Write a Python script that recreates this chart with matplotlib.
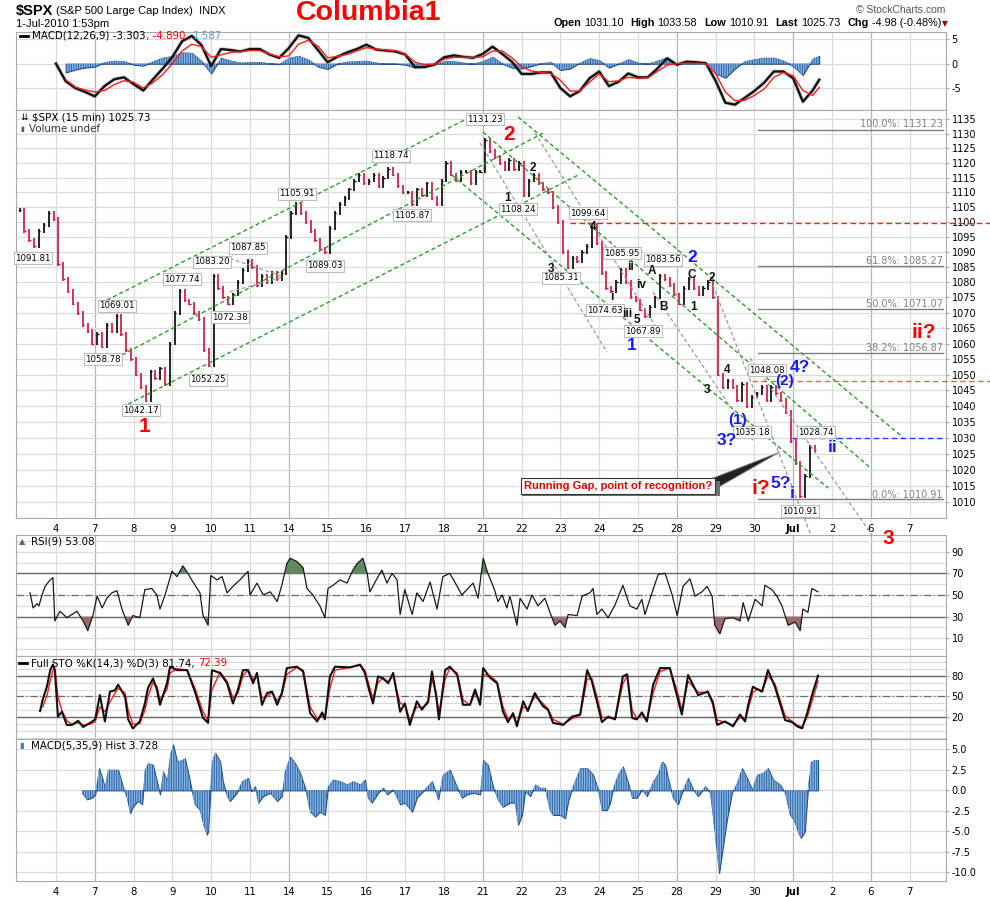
import matplotlib

matplotlib.use("Agg")
import matplotlib.pyplot as plt
import numpy as np
from matplotlib.patches import Polygon, Rectangle
from matplotlib.ticker import FixedLocator, NullLocator, FuncFormatter

# ---------------------------------------------------------------- data
# trading-day index: Jun 3 = -1, Jun 4 = 0 ... Jul 1 = 19, Jul 7 = 22
DATE_LABELS = ["4", "7", "8", "9", "10", "11", "14", "15", "16", "17", "18", "21",
               "22", "23", "24", "25", "28", "29", "30", "Jul", "2", "6", "7"]
DARK_DAYS = [1, 6, 11, 16, 19, 21]

# 15-min closes, read roughly 8 per session
PRICE_DAY = [-1, 0, 1, 2, 3, 4, 5, 6, 7, 8, 9, 10, 11, 12, 13, 14, 15, 16, 17, 18, 19]
PRICE_CLOSES = [
    [1104, 1097, 1094, 1092, 1097, 1099, 1103, 1101],
    [1086, 1081, 1077, 1073, 1070, 1066, 1064, 1060],
    [1063, 1059, 1066, 1064, 1069, 1063, 1058, 1055],
    [1050, 1046, 1042, 1051, 1049, 1052, 1047, 1060],
    [1070, 1077, 1074, 1073, 1070, 1068, 1058, 1053],
    [1082, 1078, 1075, 1073, 1076, 1080, 1084, 1087],
    [1085, 1079, 1082, 1080, 1083, 1081, 1083, 1095],
    [1103, 1106, 1103, 1100, 1097, 1094, 1091, 1090],
    [1098, 1103, 1106, 1108, 1111, 1114, 1116, 1113],
    [1114, 1116, 1112, 1115, 1118, 1116, 1112, 1110],
    [1110, 1106, 1111, 1109, 1113, 1108, 1106, 1114],
    [1120, 1116, 1114, 1117, 1117, 1113, 1117, 1117],
    [1128, 1124, 1122, 1120, 1118, 1121, 1118, 1120],
    [1109, 1114, 1116, 1113, 1111, 1110, 1105, 1100],
    [1090, 1085, 1088, 1087, 1090, 1092, 1099, 1093],
    [1083, 1078, 1077, 1080, 1084, 1080, 1075, 1074],
    [1071, 1069, 1072, 1075, 1082, 1081, 1079, 1076],
    [1073, 1078, 1081, 1078, 1076, 1078, 1080, 1075],
    [1050, 1046, 1048, 1046, 1042, 1047, 1040, 1043],
    [1044, 1046, 1042, 1046, 1044, 1042, 1038, 1029],
    [1022, 1012, 1018, 1027, 1026],
]

# MACD(12,26,9)
MACD_T = [0, .25, .5, .75, 1, 1.25, 1.5, 1.75, 2, 2.25, 2.5, 2.75, 3, 3.25, 3.5, 3.75, 4, 4.25,
          4.5, 4.75, 5, 5.25, 5.5, 5.75, 6, 6.25, 6.5, 6.75, 7, 7.25, 7.5, 7.75, 8, 8.25, 8.5,
          8.75, 9, 9.25, 9.5, 9.75, 10, 10.25, 10.5, 10.75, 11, 11.25, 11.5, 11.75, 12, 12.25,
          12.5, 12.75, 13, 13.25, 13.5, 13.75, 14, 14.25, 14.5, 14.75, 15, 15.25, 15.5, 15.75,
          16, 16.25, 16.5, 16.75, 17, 17.25, 17.5, 17.75, 18, 18.25, 18.5, 18.75, 19, 19.25,
          19.5, 19.67]
MACD_LINE = [0, -3.6, -5.0, -5.8, -6.7, -4.6, -3.2, -2.8, -4.2, -5.5, -3.2, -1.0, 1.4, 4.6, 5.7,
             3.8, -0.5, 3.0, 2.8, 2.5, 3.0, 3.0, 1.9, 1.2, 3.2, 5.8, 5.3, 2.8, 0.3, 1.4, 2.3, 3.0,
             3.9, 2.9, 2.7, 2.5, 1.9, -0.7, -0.7, -0.2, 1.3, 1.7, 1.4, 1.2, 2.0, 3.5, 2.0, 0.4,
             -2.1, -2.1, -1.8, -1.8, -5.0, -6.7, -5.6, -3.0, -1.6, -4.6, -3.7, -2.0, -2.8, -2.8,
             -1.0, 1.1, -0.2, 0.4, 0.3, 0.1, -3.5, -8.0, -8.4, -7.0, -5.6, -3.9, -1.6, -1.6, -3.0,
             -7.8, -5.5, -3.3]
MACD_SIGNAL = [None, -3.3, -4.8, -5.4, -5.8, -5.5, -4.3, -3.5, -3.8, -5.0, -3.9, -2.2, 0.0, 2.6,
               4.0, 3.5, 1.3, 1.8, 2.3, 2.5, 2.7, 2.7, 2.0, 1.4, 1.6, 4.0, 4.8, 3.6, 1.2, 1.5, 1.9,
               2.6, 3.3, 3.0, 2.8, 2.7, 2.0, 0.3, -0.2, -0.1, 0.9, 1.3, 1.3, 1.3, 1.4, 2.6, 2.6,
               1.2, -0.6, -1.5, -1.8, -2.0, -3.4, -5.6, -5.6, -3.8, -2.1, -3.7, -3.5, -2.8, -3.0,
               -2.9, -1.6, -0.3, 0.0, 0.1, 0.1, 0.0, -2.0, -5.8, -7.6, -7.5, -6.5, -5.2, -2.8,
               -1.8, -2.5, -5.5, -6.5, -4.9]
MACD_HIST = [None, -1.8, -1.2, -0.8, -0.6, 0.3, 0.6, 0.5, -0.2, -0.4, 0.5, 1.2, 1.6, 2.3, 2.2,
             0.5, -2.0, 1.2, 0.6, 0.2, 0.3, 0.3, 0.1, -0.1, 1.2, 1.6, 0.8, -0.6, -1.1, 0.0, 0.4,
             0.5, 0.6, 0.2, 0.0, 0.0, -0.2, -0.8, -0.5, -0.1, 0.5, 0.5, 0.2, 0.0, 0.5, 1.4, 0.0,
             -0.8, -1.0, -0.5, 0.1, 0.3, -1.3, -1.0, 0.2, 1.1, 0.7, -0.8, 0.0, 0.9, 0.2, 0.0, 0.6,
             1.3, -0.2, 0.3, 0.2, 0.1, -2.0, -2.9, -1.0, 0.5, 0.9, 1.2, 1.2, 0.6, -0.5, -2.3,
             1.0, 1.6]

# RSI(9)
RSI_T = [-.67, -.59, -.49, -.44, -.36, -.28, -.15, -.08, -.03, .10, .28, .54, .70, .82, .95,
         1.06, 1.19, 1.31, 1.44, 1.57, 1.70, 1.86, 1.98, 2.16, 2.29, 2.47, 2.60, 2.68, 2.81,
         2.99, 3.12, 3.27, 3.40, 3.53, 3.71, 3.79, 3.92, 3.99, 4.15, 4.28, 4.41, 4.56, 4.74,
         4.95, 5.00, 5.18, 5.34, 5.52, 5.70, 5.82, 5.95, 6.03, 6.21, 6.37, 6.47, 6.62, 6.80,
         6.93, 7.01, 7.14, 7.32, 7.50, 7.65, 7.76, 7.91, 8.02, 8.09, 8.27, 8.40, 8.53, 8.66,
         8.79, 8.87, 8.99, 9.18, 9.30, 9.46, 9.64, 9.82, 9.97, 10.15, 10.34, 10.46, 10.59,
         10.75, 10.88, 11.01, 11.13, 11.20, 11.30, 11.39, 11.50, 11.62, 11.70, 11.88, 11.96,
         12.14, 12.27, 12.42, 12.60, 12.73, 12.86, 12.99, 13.12, 13.20, 13.43, 13.56, 13.76,
         13.84, 13.94, 14.07, 14.23, 14.41, 14.61, 14.79, 14.97, 15.10, 15.18, 15.36, 15.52,
         15.70, 15.88, 16.01, 16.16, 16.34, 16.47, 16.65, 16.78, 16.91, 16.98, 17.11, 17.24,
         17.45, 17.63, 17.71, 17.84, 18.02, 18.20, 18.27, 18.45, 18.58, 18.71, 18.87, 19.05,
         19.18, 19.25, 19.38, 19.48, 19.64]
RSI_V = [52, 38, 42, 40, 50, 58, 64, 66, 26, 35, 29, 35, 26, 17, 31, 49, 38, 47, 52, 54, 37, 22,
         31, 29, 55, 56, 50, 37, 50, 72, 67, 77, 70, 62, 52, 31, 22, 68, 64, 67, 52, 58, 64, 72,
         50, 61, 50, 53, 44, 59, 79, 84, 81, 75, 56, 50, 40, 29, 56, 59, 64, 61, 73, 79, 84, 70,
         53, 65, 73, 61, 70, 64, 32, 55, 32, 52, 44, 62, 37, 67, 70, 58, 50, 55, 61, 47, 84, 70,
         64, 55, 44, 50, 38, 49, 22, 47, 37, 50, 40, 47, 34, 22, 26, 20, 32, 31, 49, 52, 56, 32,
         37, 29, 41, 59, 40, 37, 46, 32, 52, 69, 70, 50, 31, 58, 65, 49, 53, 58, 49, 22, 14, 28,
         29, 26, 43, 26, 46, 40, 59, 55, 49, 40, 22, 25, 17, 37, 34, 56, 53]

# Full STO %K(14,3) / %D(3)
STO_T = [-.41, -.34, -.23, -.15, -.08, -.03, .05, .15, .28, .41, .57, .70, .88, 1.01, 1.13, 1.26,
         1.39, 1.52, 1.60, 1.78, 1.86, 1.98, 2.16, 2.29, 2.37, 2.50, 2.60, 2.68, 2.86, 2.94,
         3.12, 3.38, 3.58, 3.79, 3.92, 4.02, 4.23, 4.41, 4.56, 4.69, 4.82, 4.95, 5.08, 5.18,
         5.31, 5.44, 5.57, 5.70, 5.82, 5.95, 6.21, 6.37, 6.55, 6.73, 6.86, 6.93, 7.06, 7.19,
         7.58, 7.84, 7.96, 8.09, 8.17, 8.30, 8.43, 8.56, 8.69, 8.87, 8.99, 9.12, 9.30, 9.43,
         9.59, 9.69, 9.80, 9.87, 10.03, 10.15, 10.34, 10.49, 10.67, 10.80, 10.93, 11.01, 11.19,
         11.37, 11.52, 11.65, 11.78, 11.88, 12.04, 12.16, 12.34, 12.55, 12.68, 12.81, 13.07,
         13.30, 13.51, 13.69, 13.81, 13.94, 14.07, 14.23, 14.41, 14.61, 14.72, 14.85, 14.97,
         15.10, 15.23, 15.39, 15.57, 15.82, 16.01, 16.13, 16.29, 16.55, 16.80, 16.93, 17.04,
         17.24, 17.45, 17.63, 17.76, 17.84, 17.96, 18.09, 18.20, 18.35, 18.53, 18.66, 18.79,
         18.97, 19.10, 19.23, 19.36, 19.51, 19.64]
STO_K = [29, 46, 65, 88, 96, 88, 21, 28, 9, 9, 15, 6, 12, 17, 52, 14, 57, 59, 67, 50, 17, 4, 14,
         40, 62, 76, 60, 38, 69, 93, 88, 88, 57, 19, 12, 88, 84, 69, 40, 60, 88, 88, 69, 84, 38,
         55, 57, 38, 55, 91, 93, 86, 26, 14, 27, 17, 79, 93, 92, 96, 84, 55, 40, 79, 76, 69, 84,
         28, 40, 9, 43, 31, 43, 86, 50, 17, 88, 93, 81, 38, 38, 60, 38, 91, 77, 69, 28, 13, 26,
         7, 43, 29, 55, 36, 31, 12, 9, 21, 24, 88, 72, 43, 13, 21, 17, 79, 82, 19, 17, 27, 14,
         67, 91, 91, 50, 24, 81, 52, 57, 40, 9, 14, 7, 24, 14, 38, 64, 60, 57, 88, 64, 40, 16,
         13, 7, 4, 26, 57, 80]
STO_D = [None, 35, 52, 72, 88, 90, 50, 30, 15, 10, 12, 9, 10, 14, 35, 28, 42, 55, 62, 55, 30,
         10, 11, 30, 50, 70, 65, 45, 60, 84, 90, 88, 62, 28, 15, 60, 85, 72, 48, 55, 80, 88, 74,
         80, 48, 50, 56, 44, 52, 82, 92, 88, 35, 18, 22, 20, 62, 88, 92, 95, 88, 62, 48, 70, 77,
         71, 80, 40, 38, 16, 35, 34, 40, 75, 55, 25, 75, 91, 84, 45, 38, 55, 42, 82, 80, 71, 35,
         18, 23, 11, 35, 32, 50, 40, 32, 17, 10, 18, 23, 75, 76, 50, 20, 19, 18, 68, 80, 30, 18,
         24, 17, 55, 86, 91, 58, 30, 72, 56, 56, 44, 16, 13, 9, 20, 16, 32, 56, 61, 58, 80, 68,
         45, 22, 14, 9, 6, 20, 48, 72]

# MACD(5,35,9) histogram
HIST_T = [.67, .80, .93, 1.01, 1.06, 1.11, 1.19, 1.26, 1.34, 1.47, 1.60, 1.73, 1.83, 1.91, 1.98,
          2.11, 2.22, 2.29, 2.37, 2.50, 2.63, 2.68, 2.76, 2.86, 2.94, 3.02, 3.12, 3.25, 3.32,
          3.40, 3.51, 3.58, 3.71, 3.79, 3.89, 3.92, 4.02, 4.10, 4.23, 4.30, 4.41, 4.48, 4.66,
          4.79, 4.95, 5.03, 5.13, 5.21, 5.34, 5.52, 5.70, 5.82, 5.90, 6.03, 6.16, 6.29, 6.42,
          6.55, 6.68, 6.80, 6.93, 7.01, 7.14, 7.32, 7.50, 7.65, 7.84, 7.96, 8.04, 8.14, 8.30,
          8.43, 8.53, 8.69, 8.87, 8.99, 9.18, 9.30, 9.46, 9.69, 9.85, 9.97, 10.15, 10.34, 10.46,
          10.59, 10.75, 10.93, 11.01, 11.13, 11.26, 11.39, 11.52, 11.70, 11.83, 11.91, 12.01,
          12.09, 12.22, 12.35, 12.47, 12.60, 12.73, 12.81, 12.99, 13.12, 13.20, 13.32, 13.51,
          13.69, 13.84, 13.97, 14.07, 14.20, 14.28, 14.36, 14.48, 14.61, 14.72, 14.85, 14.97,
          15.10, 15.23, 15.39, 15.52, 15.62, 15.70, 15.77, 15.90, 16.03, 16.16, 16.29, 16.42,
          16.55, 16.73, 16.86, 16.98, 17.09, 17.19, 17.29, 17.42, 17.55, 17.68, 17.81, 17.94,
          18.07, 18.22, 18.35, 18.48, 18.66, 18.79, 18.92, 19.02, 19.12, 19.20, 19.30, 19.38,
          19.46, 19.56, 19.64]
HIST_V = [-0.3, -1.1, -0.9, -0.5, 1.1, 2.7, 1.5, 0.3, 2.5, 2.5, 2.5, 0.3, -0.9, -2.8, -2.0, -1.3,
          -1.7, 2.5, 3.3, 3.1, 0.5, -0.5, 2.3, 1.1, 4.3, 5.6, 3.5, 3.7, 3.9, 2.3, -0.3, -1.7,
          -2.4, -4.0, -5.4, -5.0, 3.5, 4.6, 3.5, 1.1, -0.7, -1.3, -0.3, 1.1, 1.5, -0.1, 0.5,
          -1.5, -0.7, -0.3, -1.3, -0.7, 2.3, 4.1, 3.3, 2.1, 0.3, -2.6, -3.2, -2.6, -3.0, 0.5,
          1.3, 1.1, 0.7, 1.1, 0.7, 1.3, -0.9, -1.5, -0.3, 0.3, -0.5, 0.1, -1.7, -1.5, -2.6, -0.9,
          -0.1, 1.1, -1.1, 1.9, 2.5, 0.3, -0.9, -0.5, -0.3, -0.5, 3.7, 3.1, 0.5, -1.1, -2.0,
          -1.5, -1.5, -4.2, -3.0, -0.1, -0.7, 0.7, 0.3, 0.3, -2.4, -3.0, -3.0, -3.4, -1.3, 0.5,
          2.7, 2.7, 1.9, 0.1, -2.4, -2.4, -1.5, 0.3, 1.9, 2.9, 1.3, -0.9, -0.9, 0.1, -0.7, 1.1,
          2.1, 3.5, 3.1, 1.5, -0.9, -1.7, 0.1, 1.5, 0.1, -0.7, 0.5, -0.3, -5.2, -10.1, -6.8,
          -3.6, -0.3, 0.9, 2.7, 1.5, 0.1, 1.9, 2.1, 2.7, 1.3, 0.7, -0.3, -3.0, -3.6, -5.0, -5.8,
          -5.0, 0.3, 3.5, 3.7, 3.7]

# annotations: (day, price) endpoints of the hand-drawn trendlines
GREEN_LINES = [((1.31, 1074.1), (10.67, 1135.7)), ((1.70, 1056.3), (12.55, 1130.2)),
               ((1.70, 1039.6), (13.51, 1116.2)), ((11.91, 1135.8), (21.83, 1030.1)),
               ((11.00, 1130.6), (21.00, 1020.5)), ((10.21, 1115.8), (19.90, 1014.3))]
GRAY_LINES = [((10.93, 1126.8), (14.20, 1057.2)), ((12.35, 1130.2), (15.64, 1061.8)),
              ((16.93, 1079.0), (19.74, 991.4)), ((17.89, 1055.3), (21.06, 999.3)),
              ((15.39, 1076.7), (17.96, 1029.2)), ((4.48, 1087.9), (5.85, 1081.8)),
              ((4.48, 1076.8), (5.85, 1081.8))]
FIB_LEVELS = [("100.0%", 1131.23), ("61.8%", 1085.27), ("50.0%", 1071.07),
              ("38.2%", 1056.87), ("0.0%", 1010.91)]
FIB_SPAN = (18.09, 22.86)

# ---------------------------------------------------------------- layout
W, H = 990, 897
X0, X1 = -1.031, 22.938
FRAME, LGRID, DGRID = "#a9a9a9", "#dcdcdc", "#b4b4b4"
UP, DOWN, GREEN, BLUE = "#000000", "#d0103a", "#2f9e2f", "#1a1aff"
SANS = "DejaVu Sans"
ARIAL = "Liberation Sans"

fig = plt.figure(figsize=(W / 100, H / 100), dpi=100)
fig.patch.set_facecolor("white")
R = fig.canvas.get_renderer()


def panel(top, bottom):
    return fig.add_axes([16 / W, 1 - bottom / H, 930 / W, (bottom - top) / H])


def ftext(x, y, s, **kw):
    kw.setdefault("va", "center")
    return fig.text(x / W, 1 - y / H, s, **kw)


def run(x, y, parts, **common):
    """lay text pieces left to right: (text, extra kwargs, gap after in px)"""
    for s, kw, gap in parts:
        t = ftext(x, y, s, **common, **kw)
        x += t.get_window_extent(renderer=R).width + gap
    return x


def style(ax, yticks, fmt, hlines=()):
    ax.set_xlim(X0, X1)
    for s in ax.spines.values():
        s.set_color(FRAME)
    ax.yaxis.tick_right()
    ax.yaxis.set_major_locator(FixedLocator(yticks))
    ax.yaxis.set_minor_locator(NullLocator())
    ax.yaxis.set_major_formatter(FuncFormatter(fmt))
    ax.tick_params(axis="y", labelsize=7, length=2, color=FRAME, pad=2,
                   labelfontfamily=SANS)
    ax.tick_params(axis="x", length=0, labelbottom=False)
    for d in range(23):
        ax.axvline(d, color=DGRID if d in DARK_DAYS else LGRID, lw=0.9, zorder=0)
    for h in hlines:
        ax.axhline(h, color=LGRID, lw=0.9, zorder=0)


def date_axis(ax):
    ax.set_xticks(range(23))
    ax.set_xticklabels(DATE_LABELS, fontsize=7.3, family=SANS)
    ax.tick_params(axis="x", labelbottom=True, pad=4)
    ax.get_xticklabels()[19].set_fontweight("bold")


def bars_fill(ax, t, v):
    ax.fill_between(t, 0, v, color="#2f63a0", lw=0.8, ec="#1f4f8a", zorder=2)
    ax.fill_between(t, 0, v, fc="none", ec="#86b6e6", hatch="|||||||", lw=0, zorder=2)


# ---------------------------------------------------------------- MACD(12,26,9)
ax = panel(32, 110)
style(ax, [5, 0, -5], lambda v, p: f"{v:.0f}", hlines=[5, 0, -5])
ax.set_ylim(-9.5, 6.5)
ht = [t for t, v in zip(MACD_T, MACD_HIST) if v is not None]
hv = [v for v in MACD_HIST if v is not None]
bars_fill(ax, ht, hv)
st = [t for t, v in zip(MACD_T, MACD_SIGNAL) if v is not None]
sv = [v for v in MACD_SIGNAL if v is not None]
ax.plot(MACD_T, MACD_LINE, color="#999999", lw=3.0, alpha=0.4, zorder=3)
ax.plot(MACD_T, MACD_LINE, color="#111111", lw=1.7, zorder=3)
ax.plot(st, sv, color="#ff1a1a", lw=1.0, zorder=4)

# ---------------------------------------------------------------- price
ax = panel(110, 518)
ax.set_yscale("log")
ax.set_ylim(1005.1, 1138.2)
style(ax, list(range(1010, 1136, 5)), lambda v, p: f"{v:.0f}",
      hlines=list(range(1010, 1136, 5)))
date_axis(ax)
pt, pc = [], []
for d, closes in zip(PRICE_DAY, PRICE_CLOSES):
    for s, c in enumerate(closes):
        pt.append(d + (s + 0.5) / 8)
        pc.append(c)
prev = pc[0]
for t, c in zip(pt, pc):
    col = UP if c >= prev else DOWN
    lo, hi = min(prev, c), max(prev, c)
    ax.vlines(t, lo - 0.6, hi + 0.6, color=col, lw=1.2, zorder=3)
    ax.hlines(c, t, t + 0.035, color=col, lw=1.0, zorder=3)
    prev = c

for (a, b) in GREEN_LINES:
    ax.plot([a[0], b[0]], [a[1], b[1]], color=GREEN, lw=1.0, ls=(0, (3, 2)), zorder=4)
for (a, b) in GRAY_LINES:
    ax.plot([a[0], b[0]], [a[1], b[1]], color="#9a9a9a", lw=0.9, ls=(0, (3, 2)),
            zorder=4, clip_on=False)
ax.plot([13.25, 24.1], [1099.64, 1099.64], color="#ff2020", lw=1.0, ls=(0, (4, 2.5)),
        zorder=4, clip_on=False)
ax.plot([17.94, 24.1], [1048.08, 1048.08], color="#ff5a5a", lw=1.0, ls=(0, (4, 2.5)),
        zorder=4, clip_on=False)
ax.plot([18.97, X1], [1030.0, 1030.0], color="#2040ff", lw=1.0, ls=(0, (4, 2.5)), zorder=4)
for name, lvl in FIB_LEVELS:
    ax.plot(FIB_SPAN, [lvl, lvl], color="#7d7d7d", lw=1.0, zorder=4)

# ---------------------------------------------------------------- RSI
ax = panel(535, 656)
style(ax, [90, 70, 50, 30, 10], lambda v, p: f"{v:.0f}", hlines=range(0, 101, 10))
ax.set_ylim(-6.4, 105.5)
ax.axhline(70, color="#6b6b6b", lw=1.0, zorder=1)
ax.axhline(30, color="#6b6b6b", lw=1.0, zorder=1)
ax.axhline(50, color="#6b6b6b", lw=0.9, ls=(0, (6, 2, 1, 2)), zorder=1)
rt, rv = np.array(RSI_T), np.array(RSI_V, float)
ax.fill_between(rt, rv, 30, where=rv < 30, interpolate=True, color="#9b6a6a", lw=0, zorder=2)
ax.fill_between(rt, rv, 70, where=rv > 70, interpolate=True, color="#5f8a5f", lw=0, zorder=2)
ax.plot(rt, rv, color="#1a1a1a", lw=0.9, zorder=3)

# ---------------------------------------------------------------- Full STO
ax = panel(656, 739)
style(ax, [80, 50, 20], lambda v, p: f"{v:.0f}", hlines=range(-10, 101, 10))
ax.set_ylim(-11.3, 108.4)
ax.axhline(80, color="#6b6b6b", lw=1.0, zorder=1)
ax.axhline(20, color="#6b6b6b", lw=1.0, zorder=1)
ax.axhline(50, color="#6b6b6b", lw=0.9, ls=(0, (6, 2, 1, 2)), zorder=1)
dt = [t for t, v in zip(STO_T, STO_D) if v is not None]
dv = [v for v in STO_D if v is not None]
ax.plot(dt, dv, color="#ff1a1a", lw=1.0, zorder=3)
ax.plot(STO_T, STO_K, color="#111111", lw=1.5, zorder=4)

# ---------------------------------------------------------------- MACD(5,35,9) hist
ax = panel(739, 881)
style(ax, [5, 2.5, 0, -2.5, -5, -7.5, -10], lambda v, p: f"{v:.1f}",
      hlines=[5, 2.5, 0, -2.5, -5, -7.5, -10])
ax.set_ylim(-11.06, 6.26)
date_axis(ax)
bars_fill(ax, HIST_T, HIST_V)

# ---------------------------------------------------------------- header texts
run(16, 11, [("$SPX", dict(fontsize=10.5, fontweight="bold"), 3),
             ("(S&P 500 Large Cap Index)  INDX", dict(fontsize=8), 0)], family=ARIAL)
ftext(16, 24, "1-Jul-2010 1:53pm", fontsize=8, family=ARIAL)
ftext(296, 13, "Columbia1", fontsize=20.5, fontweight="bold", color="#ff0000", family=ARIAL)
ftext(945, 10, "© StockCharts.com", fontsize=7.5, color="#555555", family=ARIAL, ha="right")
B, N = dict(fontweight="bold"), dict()
run(553, 23, [("Open", B, 3), ("1031.10", N, 7), ("High", B, 3), ("1033.58", N, 7),
              ("Low", B, 3), ("1010.91", N, 7), ("Last", B, 3), ("1025.73", N, 7),
              ("Chg", B, 3), ("-4.98 (-0.48%)", N, 0)], fontsize=7.8, family=ARIAL)
ftext(945, 24, "▼", fontsize=5.5, color="#a00000", ha="center", family=SANS)

# panel labels
L = dict(fontsize=7.4, family=SANS)
fig.add_artist(plt.Line2D([20 / W, 28 / W], [1 - 36 / H] * 2, color="black", lw=2))
run(32, 36, [("MACD(12,26,9) -3.303", N, 0), (", -4.890,", dict(color="#ff0000"), 5),
             ("1.587", dict(color="#4fa3d8"), 0)], **L)
ftext(20, 118, "⇊", fontsize=6.5, family=SANS)
ftext(32, 118, "$SPX (15 min) 1025.73", **L)
ftext(20, 128.5, "▮", fontsize=5, family=SANS, color="#555555")
ftext(29, 128.5, "Volume undef", color="#333333", **L)
ftext(19, 541.5, "▲", fontsize=6, family=SANS, color="#4c7a4c")
ftext(31, 541.5, "RSI(9) 53.08", **L)
fig.add_artist(plt.Line2D([19 / W, 27 / W], [1 - 663 / H] * 2, color="black", lw=2))
run(31, 663, [("Full STO %K(14,3) %D(3) 81.74,", N, 4), ("72.39", dict(color="#ff0000"), 0)],
    **L)
ftext(19, 745.5, "▮", fontsize=6, family=SANS, color="#3f78b5")
ftext(31, 745.5, "MACD(5,35,9) Hist 3.728", **L)

# price boxes
for x, y, s in [(33, 258, "1091.81"), (117, 306, "1069.01"), (103, 359, "1058.78"),
                (141, 410, "1042.17"), (182, 279, "1077.74"), (212, 262, "1083.20"),
                (230, 317, "1072.38"), (248, 248, "1087.85"), (208, 380, "1052.25"),
                (297, 194, "1105.91"), (325, 266, "1089.03"), (391, 156, "1118.74"),
                (412, 215, "1105.87"), (485, 119, "1131.23"), (518, 209, "1108.24"),
                (588, 213, "1099.64"), (561, 278, "1085.31"), (622, 253, "1085.95"),
                (605, 310, "1074.63"), (643, 331, "1067.89"), (663, 260, "1083.56"),
                (767, 370, "1048.08"), (752, 432, "1035.18"), (816, 432, "1028.74"),
                (800, 511, "1010.91")]:
    ftext(x, y, s, fontsize=6.2, family=SANS, ha="center", zorder=6,
          bbox=dict(boxstyle="square,pad=0.18", fc="white", ec="#bdbdbd", lw=0.8))

# fib labels
for (name, lvl), y in zip(FIB_LEVELS, [124, 261, 304, 348, 495]):
    ftext(943, y, f"{name}: {lvl:.2f}", fontsize=7, family=SANS, color="#808080", ha="right")

# wave labels
for x, y, s, size in [(145, 426, "1", 15), (509, 134, "2", 15), (888, 538, "3", 15),
                      (924, 333, "ii?", 15), (761, 488, "i?", 15)]:
    ftext(x, y, s, fontsize=size, fontweight="bold", color="#ff0000", family=ARIAL,
          ha="center", zorder=7)
for x, y, s, size in [(632, 345, "1", 12.5), (692, 257, "2", 12.5), (800, 367, "4?", 12.5),
                      (785, 381, "(2)", 11), (738, 420, "(1)", 11), (727, 440, "3?", 12.5),
                      (781, 483, "5?", 12.5), (792, 493, "i", 12.5), (833, 448, "ii", 12.5)]:
    ftext(x, y, s, fontsize=size, fontweight="bold", color=BLUE, family=ARIAL,
          ha="center", zorder=7)
for x, y, s in [(508, 198, "1"), (533, 168, "2"), (551, 269, "3"), (593, 227, "4"),
                (637, 320, "5"), (612, 297, "i"), (630, 267, "ii"), (627, 314, "iii"),
                (641, 285, "iv"), (652, 271, "A"), (663, 307, "B"), (692, 275, "C"),
                (694, 307, "1"), (712, 278, "2"), (727, 370, "4"), (707, 390, "3")]:
    ftext(x, y, s, fontsize=8.5, fontweight="bold", color="#111111", family=ARIAL,
          ha="center", zorder=7)

# running-gap callout
fig.add_artist(Polygon([(708 / W, 1 - 480 / H), (780 / W, 1 - 452 / H), (717 / W, 1 - 488 / H)],
                       closed=True, fc="#222222", ec="#888888", lw=0.6,
                       transform=fig.transFigure))
fig.add_artist(Rectangle((522 / W, 1 - 496 / H), 198 / W, 15 / H, fc="#707070", lw=0,
                         transform=fig.transFigure, zorder=6))
ftext(618, 486, "Running Gap, point of recognition?", fontsize=8, fontweight="bold",
      color="#e00000", family=ARIAL, ha="center", zorder=8,
      bbox=dict(boxstyle="square,pad=0.3", fc="white", ec="#333333", lw=0.8))

fig.savefig("out.png", dpi=100)
